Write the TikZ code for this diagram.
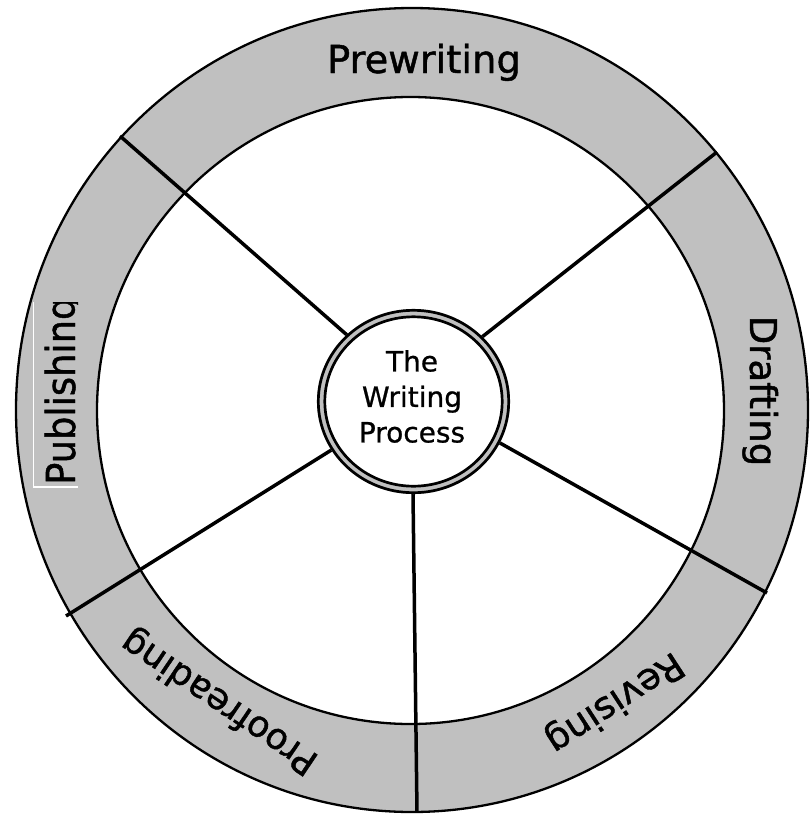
\documentclass[tikz,border=0pt]{standalone}
\usepackage{fontspec}
\setmainfont{DejaVu Sans}
\newfontfamily\ringfont[FakeBold=1.2]{DejaVu Sans}
\newfontfamily\titlefont[FakeBold=0.8]{DejaVu Sans}
\usetikzlibrary{calc}
\definecolor{ringgray}{RGB}{192,192,192}
\begin{document}
\begin{tikzpicture}[x=1pt,y=-1pt,
  spoke/.style={line width=3.5pt,line cap=butt},
  ringline/.style={line width=2.3pt},
  ringlabel/.style={inner sep=0pt}]
\useasboundingbox (0,0) rectangle (809,817);
\fill[white] (0,0) rectangle (809,817);
% ring
\filldraw[fill=ringgray, draw=black, ringline] (412,410) ellipse [x radius=396, y radius=402];
\filldraw[fill=white, draw=black, ringline] (410.5,410.5) circle [radius=313.5];
% spoke end points
\coordinate (ul-in) at (347,335);  \coordinate (ul-out) at (120,136);
\coordinate (ur-in) at (482,337);  \coordinate (ur-out) at (717,152);
\coordinate (rl-in) at (500,443);  \coordinate (rl-out) at (767,593);
\coordinate (bt-in) at (413,494);  \coordinate (bt-out) at (417,812);
\coordinate (ll-in) at (333,449);  \coordinate (ll-out) at (66,616);
\foreach \s in {ul,ur,rl,bt,ll}{
  \draw[spoke] ($(\s-in)!-8pt!(\s-out)$) -- (\s-out);
}
% centre circle
\fill[ringgray] (413.5,401.5) ellipse [x radius=96.5, y radius=92.5];
\draw[line width=2.7pt] (413.5,401.5) ellipse [x radius=95.2, y radius=91.2];
\filldraw[fill=white, draw=black, line width=2.7pt] (413.5,401.5) ellipse [x radius=88.7, y radius=84.7];
\node[align=center, inner sep=0pt, font=\titlefont\fontsize{28}{35.5}\selectfont] (title) at (412,396.5) {The\\Writing\\Process};
% labels
\node[ringlabel, anchor=base, font=\ringfont\fontsize{38.5}{46}\selectfont] (prewriting) at (424,73) {Prewriting};
\node[ringlabel, anchor=base, rotate=-90, font=\ringfont\fontsize{37}{44}\selectfont] (drafting) at (750,391) {Drafting};
\begin{scope}
\clip (33,302) rectangle (78,487);
\node[ringlabel, anchor=base west, rotate=90, font=\ringfont\fontsize{40}{48}\selectfont] (publishing) at (75,485) {\scalebox{0.92}[1]{Publishing}};
\end{scope}
\draw[white, line width=1.2pt] (33.5,302) -- (33.5,487) -- (78,487);
\node[ringlabel, rotate=-147, font=\ringfont\fontsize{37}{44}\selectfont] (revising) at (614,702) {Revising};
\node[ringlabel, rotate=146, font=\ringfont\fontsize{36}{44}\selectfont] (proofreading) at (220,701) {Proofreading};
\end{tikzpicture}
\end{document}
